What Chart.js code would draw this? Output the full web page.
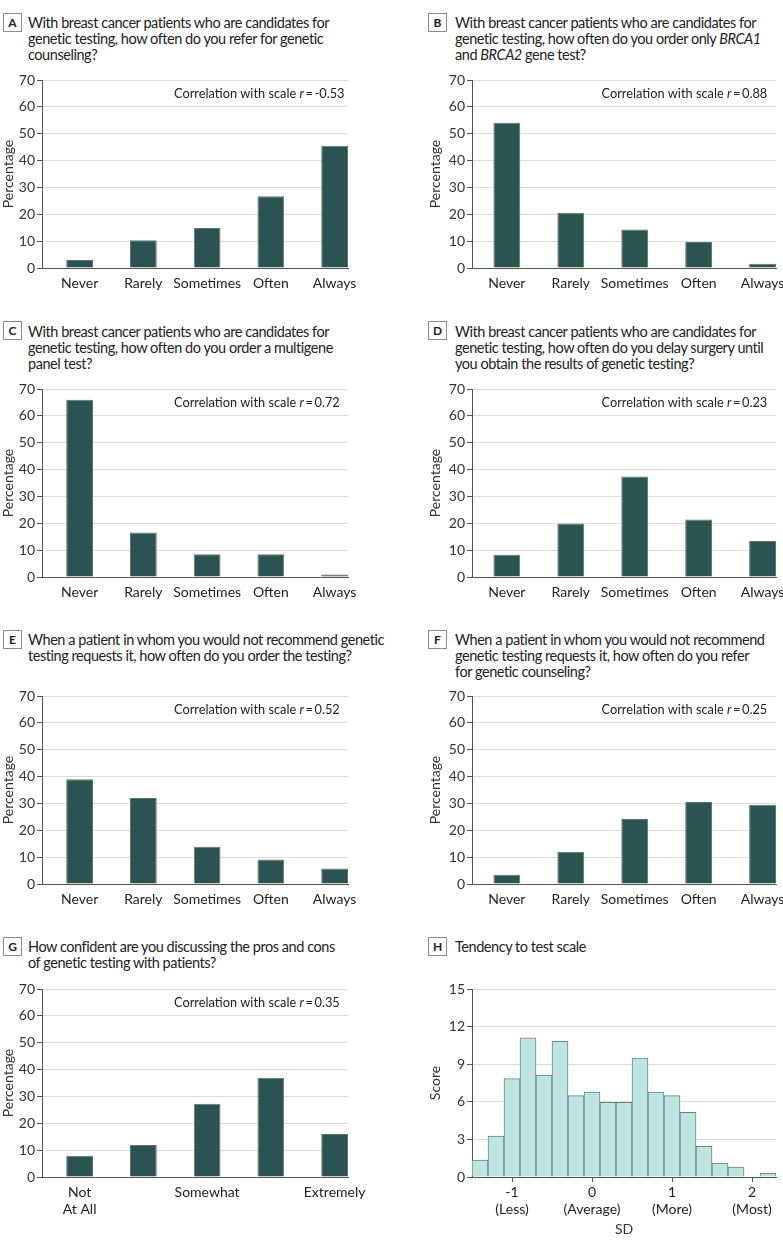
<!DOCTYPE html>
<html>
<head>
<meta charset="utf-8">
<script src="https://cdn.jsdelivr.net/npm/chart.js@4.4.1/dist/chart.umd.min.js"></script>
<style>
  body { margin: 0; background: #fff; }
  #page { position: relative; width: 783px; height: 1248px; overflow: hidden; font-family: Lato, sans-serif; color: #222; }
  .tag { position: absolute; width: 17px; height: 17px; border: 1px solid #8c8c8c; font-weight: bold; font-size: 12px; line-height: 17px; text-align: center; }
  .title { position: absolute; font-size: 14.5px; line-height: 16px; white-space: nowrap; letter-spacing: -0.45px; }
  canvas { position: absolute; }
</style>
</head>
<body>
<div id="page">
  <div class="tag" style="left:3px;top:13px">A</div>
  <div class="title" style="left:28px;top:15px">With breast cancer patients who are candidates for<br>genetic testing, how often do you refer for genetic<br>counseling?</div>
  <div class="tag" style="left:428px;top:13px">B</div>
  <div class="title" style="left:455px;top:15px">With breast cancer patients who are candidates for<br>genetic testing, how often do you order only <i>BRCA1</i><br>and <i>BRCA2</i> gene test?</div>

  <div class="tag" style="left:3px;top:321px">C</div>
  <div class="title" style="left:28px;top:324px">With breast cancer patients who are candidates for<br>genetic testing, how often do you order a multigene<br>panel test?</div>
  <div class="tag" style="left:428px;top:321px">D</div>
  <div class="title" style="left:455px;top:324px">With breast cancer patients who are candidates for<br>genetic testing, how often do you delay surgery until<br>you obtain the results of genetic testing?</div>

  <div class="tag" style="left:3px;top:630px">E</div>
  <div class="title" style="left:28px;top:632px">When a patient in whom you would not recommend genetic<br>testing requests it, how often do you order the testing?</div>
  <div class="tag" style="left:428px;top:630px">F</div>
  <div class="title" style="left:455px;top:632px">When a patient in whom you would not recommend<br>genetic testing requests it, how often do you refer<br>for genetic counseling?</div>

  <div class="tag" style="left:3px;top:937px">G</div>
  <div class="title" style="left:28px;top:939px">How confident are you discussing the pros and cons<br>of genetic testing with patients?</div>
  <div class="tag" style="left:428px;top:937px">H</div>
  <div class="title" style="left:455px;top:939px">Tendency to test scale</div>
</div>
<script>
// answer categories
var categories = ['Never', 'Rarely', 'Sometimes', 'Often', 'Always'];
var confidenceCategories = [['Not', 'At All'], '', 'Somewhat', '', 'Extremely'];

// percentages per panel
var referCounseling = [3.0, 10.3, 14.9, 26.7, 45.5];
var orderBrcaOnly = [54.1, 20.6, 14.3, 9.7, 1.6];
var orderMultigene = [66.0, 16.6, 8.5, 8.5, 0.9];
var delaySurgery = [8.3, 19.9, 37.4, 21.4, 13.4];
var orderOnRequest = [39.0, 32.0, 13.9, 9.1, 5.8];
var referOnRequest = [3.4, 12.0, 24.2, 30.5, 29.5];
var confidence = [7.9, 11.9, 27.3, 37.0, 16.0];

// correlation with scale, panels A-G
var correlations = [-0.53, 0.88, 0.72, 0.23, 0.52, 0.25, 0.35];

// histogram of the tendency to test scale
var sdBins = [-1.4, -1.2, -1.0, -0.8, -0.6, -0.4, -0.2, 0.0, 0.2, 0.4, 0.6, 0.8, 1.0, 1.2, 1.4, 1.6, 1.8, 2.0, 2.2];
var scoreValues = [1.35, 3.27, 7.85, 11.1, 8.14, 10.82, 6.49, 6.78, 5.96, 5.96, 9.49, 6.78, 6.49, 5.16, 2.45, 1.12, 0.8, 0, 0.29];
var sdTickValues = [-1, 0, 1, 2];
var sdTickLabels = [['-1', '(Less)'], ['0', '(Average)'], ['1', '(More)'], ['2', '(Most)']];

Chart.defaults.font.family = 'Lato';
Chart.defaults.font.size = 14;
Chart.defaults.color = '#222';

var corrPlugin = {
  id: 'corr',
  afterDraw: function (chart, args, opts) {
    if (opts.r === undefined) return;
    var ctx = chart.ctx;
    var x = chart.scales.x.getPixelForValue(1.48);
    var y = chart.scales.y.getPixelForValue(65);
    var f = '12.8px Lato';
    ctx.save();
    ctx.fillStyle = '#222';
    ctx.textBaseline = 'middle';
    ctx.textAlign = 'left';
    ctx.font = f;
    var a = 'Correlation with scale ';
    ctx.fillText(a, x, y);
    x += ctx.measureText(a).width;
    ctx.font = 'italic ' + f;
    ctx.fillText('r', x, y);
    x += ctx.measureText('r').width;
    ctx.font = f;
    ctx.fillText('\u2009=\u2009' + opts.r.toFixed(2), x, y);
    ctx.restore();
  }
};

function makeCanvas(left, top, w, h) {
  var c = document.createElement('canvas');
  c.width = w; c.height = h;
  c.style.left = left + 'px'; c.style.top = top + 'px';
  c.style.width = w + 'px'; c.style.height = h + 'px';
  document.getElementById('page').appendChild(c);
  return c;
}

function yAxis(max, step, text, side) {
  return {
    min: 0, max: max,
    ticks: { stepSize: step, padding: 2, color: '#333' },
    grid: {
      color: function (c) { return c.tick && c.tick.value === 0 ? 'rgba(0,0,0,0)' : '#dcdcdc'; },
      tickColor: '#555', tickLength: 5
    },
    border: { display: true, color: '#555' },
    title: { display: true, text: text, color: '#333', padding: { top: side === 'left' ? 0 : 37, bottom: 0 } },
    afterFit: function (s) { s.width = side === 'left' ? 42 : 82; s.paddingTop = 0; s.paddingBottom = 0; }
  };
}

function barPanel(values, labels, r, side, top, xh) {
  var left = side === 'left' ? 0 : 390;
  var w = side === 'left' ? 390 : 393;
  var canvas = makeCanvas(left, top, w, 10 + 188 + xh);
  new Chart(canvas.getContext('2d'), {
    type: 'bar',
    data: {
      datasets: [{
        data: values.map(function (v, i) { return { x: i, y: v }; }),
        backgroundColor: '#2b5351',
        borderColor: '#5d7372',
        borderWidth: 1,
        barPercentage: 0.42,
        categoryPercentage: 1
      }]
    },
    options: {
      responsive: false,
      animation: false,
      layout: { padding: { top: 10, right: side === 'left' ? 42 : 7, left: 0, bottom: 0 } },
      plugins: { legend: { display: false }, tooltip: { enabled: false }, corr: { r: r } },
      scales: {
        x: {
          type: 'linear',
          min: side === 'left' ? -0.59 : -0.545, max: 4.21,
          offset: false,
          ticks: {
            stepSize: 1, includeBounds: false, autoSkip: false, maxRotation: 0, padding: 7,
            callback: function (v) { return labels[v]; }
          },
          grid: { display: false, drawTicks: false, offset: false },
          border: { display: true, color: '#555' },
          afterFit: function (s) { s.height = xh; s.paddingLeft = 0; s.paddingRight = 0; }
        },
        y: yAxis(70, 10, 'Percentage', side)
      }
    },
    plugins: [corrPlugin]
  });
}

barPanel(referCounseling, categories, correlations[0], 'left', 70, 30);
barPanel(orderBrcaOnly, categories, correlations[1], 'right', 70, 30);
barPanel(orderMultigene, categories, correlations[2], 'left', 379, 30);
barPanel(delaySurgery, categories, correlations[3], 'right', 379, 30);
barPanel(orderOnRequest, categories, correlations[4], 'left', 686, 30);
barPanel(referOnRequest, categories, correlations[5], 'right', 686, 30);
barPanel(confidence, confidenceCategories, correlations[6], 'left', 979, 50);

// H: histogram
var histCanvas = makeCanvas(390, 979, 393, 10 + 188 + 61);
new Chart(histCanvas.getContext('2d'), {
  type: 'bar',
  data: {
    datasets: [{
      data: sdBins.map(function (b, i) { return { x: b, y: scoreValues[i] }; }),
      backgroundColor: '#bfe4e2',
      borderColor: '#5f8987',
      borderWidth: 1,
      barPercentage: 1,
      categoryPercentage: 1
    }]
  },
  options: {
    responsive: false,
    animation: false,
    layout: { padding: { top: 10, right: 7, left: 0, bottom: 0 } },
    plugins: { legend: { display: false }, tooltip: { enabled: false } },
    scales: {
      x: {
        type: 'linear', min: -1.5, max: 2.3, offset: false,
        ticks: {
          stepSize: 1, includeBounds: false, autoSkip: false, maxRotation: 0, padding: 2,
          callback: function (v) { var k = sdTickValues.indexOf(v); return k < 0 ? '' : sdTickLabels[k]; }
        },
        grid: { display: true, drawOnChartArea: false, drawTicks: true, tickLength: 5, tickColor: '#555', offset: false },
        border: { display: true, color: '#555' },
        title: { display: true, text: 'SD', color: '#333', padding: { top: 0, bottom: 0 } },
        afterFit: function (s) { s.height = 61; s.paddingLeft = 0; s.paddingRight = 0; }
      },
      y: yAxis(15, 3, 'Score', 'right')
    }
  }
});
</script>
</body>
</html>
